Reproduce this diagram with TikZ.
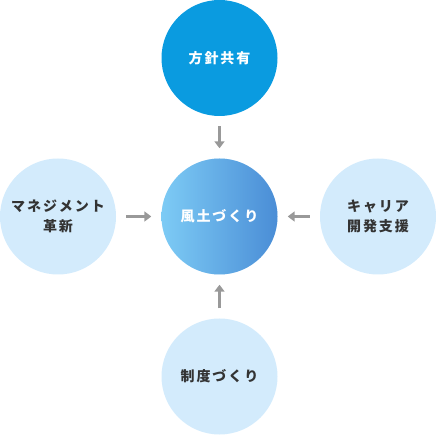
\documentclass[tikz,border=0pt]{standalone}
\usepackage{fontspec}
\usetikzlibrary{arrows.meta}
\newfontfamily\jpfont{Noto Sans CJK JP}[LetterSpace=14]
\definecolor{fuublue}{HTML}{0A9BE0}
\definecolor{fuulight}{HTML}{D3EBFC}
\definecolor{fuugradl}{HTML}{7DCBF5}
\definecolor{fuugradr}{HTML}{4A8DD6}
\definecolor{fuutext}{HTML}{333333}
\definecolor{fuuarrow}{HTML}{999999}

\begin{document}
\begin{tikzpicture}[x=1pt, y=-1pt,
    pillar/.style={circle, minimum size=116pt, inner sep=0pt, fill=fuulight, text=fuutext,
                   align=center, font=\jpfont\bfseries\fontsize{14}{20}\selectfont},
    policy/.style={pillar, fill=fuublue, text=white},
    core/.style={pillar, left color=fuugradl, right color=fuugradr, text=white},
    arrow/.style={-{Triangle[length=7pt, width=10pt]}, draw=fuuarrow, line width=2.6pt,
                  shorten <=10pt, shorten >=10pt}
  ]
    \useasboundingbox (0,0) rectangle (436,435);

    % centre and the four circles round it (pixel coordinates)
    \node[core]   (culture) at (219.5,216.5) {風土づくり};
    \node[policy] (policy)  at (219.5,58)    {方針共有};
    \node[pillar] (mgmt)    at (58,216.5)    {マネジメント\\革新};
    \node[pillar] (career)  at (378,216.5)   {キャリア\\開発支援};
    \node[pillar] (system)  at (219.5,376.5) {制度づくり};

    \draw[arrow] (policy) -- (culture);
    \draw[arrow] (mgmt)   -- (culture);
    \draw[arrow] (career) -- (culture);
    \draw[arrow] (system) -- (culture);
  \end{tikzpicture}
\end{document}
